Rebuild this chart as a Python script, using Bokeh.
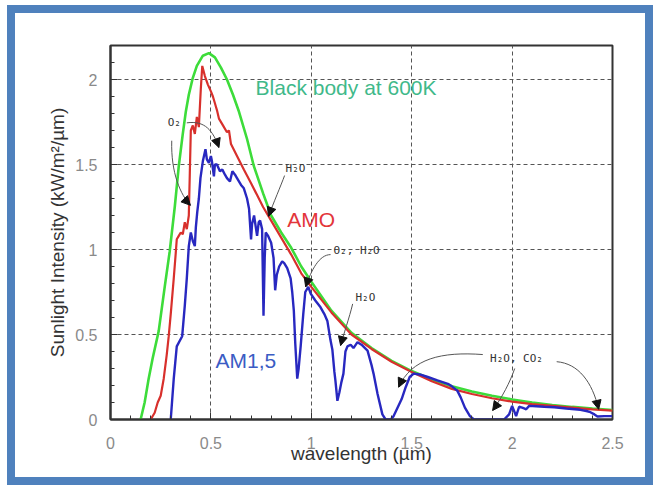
from bokeh.plotting import figure
from bokeh.embed import file_html
from bokeh.resources import INLINE
from bokeh.models import (ColumnDataSource, SingleIntervalTicker, Label, Arrow, NormalHead)
from bokeh.core.properties import value

# ---- data (wavelength in µm, intensity in kW/m²/µm) ----
bb_wl = [0.15, 0.17, 0.19, 0.21, 0.24, 0.27, 0.295, 0.32, 0.34, 0.36, 0.375, 0.39, 0.41, 0.43,
         0.46, 0.49, 0.52, 0.55, 0.58, 0.61, 0.64, 0.68, 0.714, 0.76, 0.80, 0.85, 0.90, 0.95,
         1.0, 1.1, 1.2, 1.3, 1.4, 1.5, 1.6, 1.7, 1.8, 1.9, 2.0, 2.1, 2.2, 2.3, 2.4, 2.5]
bb_int = [0.0, 0.10, 0.24, 0.36, 0.52, 0.78, 0.99, 1.25, 1.49, 1.68, 1.81, 1.91, 2.01, 2.08,
          2.14, 2.155, 2.13, 2.07, 2.00, 1.91, 1.81, 1.65, 1.49, 1.33, 1.20, 1.10, 1.01, 0.90,
          0.81, 0.64, 0.51, 0.42, 0.345, 0.285, 0.235, 0.195, 0.165, 0.14, 0.118, 0.10, 0.085,
          0.074, 0.064, 0.056]

am0_wl = [0.20, 0.22, 0.235, 0.25, 0.265, 0.28, 0.29, 0.30, 0.315, 0.325, 0.33, 0.34, 0.35,
          0.36, 0.37, 0.38, 0.39, 0.395, 0.40, 0.41, 0.42, 0.43, 0.44, 0.45, 0.457, 0.47,
          0.485, 0.50, 0.51, 0.52, 0.525, 0.53, 0.54, 0.56, 0.58, 0.59, 0.60, 0.63, 0.664,
          0.70, 0.73, 0.76, 0.80, 0.85, 0.90, 0.95, 1.0, 1.1, 1.2, 1.3, 1.4, 1.5, 1.6, 1.7,
          1.8, 1.9, 2.0, 2.1, 2.2, 2.3, 2.4, 2.5]
am0_int = [0.0, 0.04, 0.10, 0.14, 0.24, 0.38, 0.49, 0.62, 0.83, 0.98, 1.06, 1.08, 1.10,
           1.09, 1.16, 1.12, 1.20, 1.45, 1.70, 1.73, 1.68, 1.78, 1.72, 1.95, 2.08, 2.02,
           1.97, 1.93, 1.90, 1.86, 1.84, 1.82, 1.77, 1.73, 1.69, 1.70, 1.62, 1.55, 1.47,
           1.39, 1.32, 1.25, 1.17, 1.07, 0.97, 0.86, 0.78, 0.63, 0.50, 0.415, 0.34, 0.28,
           0.225, 0.18, 0.15, 0.125, 0.105, 0.09, 0.08, 0.07, 0.06, 0.052]

am15_wl = [0.30, 0.315, 0.33, 0.357, 0.37, 0.38, 0.39, 0.40, 0.41, 0.42, 0.425, 0.432, 0.44,
           0.448, 0.46, 0.473, 0.48, 0.49, 0.50, 0.505, 0.515, 0.52, 0.53, 0.545, 0.557,
           0.57, 0.58, 0.595, 0.607, 0.62, 0.63, 0.65, 0.664, 0.68, 0.69, 0.70, 0.705,
           0.715, 0.725, 0.73, 0.738, 0.745, 0.755, 0.762, 0.768, 0.773, 0.785, 0.80,
           0.812, 0.82, 0.828, 0.84, 0.855, 0.865, 0.88, 0.897, 0.905, 0.913, 0.92, 0.93,
           0.937, 0.947, 0.96, 0.97, 0.985, 0.997, 1.02, 1.046, 1.065, 1.08, 1.095, 1.105,
           1.115, 1.12, 1.13, 1.14, 1.15, 1.16, 1.17, 1.18, 1.196, 1.21, 1.23, 1.25, 1.28,
           1.30, 1.31, 1.33, 1.354, 1.37, 1.395, 1.41, 1.43, 1.45, 1.47, 1.49, 1.51, 1.54,
           1.58, 1.628, 1.68, 1.70, 1.727, 1.744, 1.765, 1.79, 1.81, 1.84, 1.90, 1.96,
           1.985, 2.0, 2.01, 2.02, 2.035, 2.05, 2.06, 2.07, 2.085, 2.12, 2.16, 2.21, 2.27,
           2.34, 2.37, 2.39, 2.41, 2.425, 2.46, 2.5]
am15_int = [0.0, 0.24, 0.43, 0.49, 0.67, 0.83, 1.02, 1.10, 1.05, 1.02, 1.13, 1.22, 1.30,
            1.42, 1.52, 1.59, 1.53, 1.51, 1.55, 1.52, 1.43, 1.50, 1.50, 1.46, 1.47,
            1.44, 1.42, 1.40, 1.46, 1.44, 1.42, 1.38, 1.36, 1.30, 1.24, 1.06, 1.15,
            1.20, 1.12, 1.08, 1.16, 1.17, 1.12, 0.61, 0.95, 1.10, 1.08, 1.04,
            0.95, 0.76, 0.85, 0.90, 0.93, 0.92, 0.89, 0.83, 0.75, 0.64, 0.45, 0.24,
            0.30, 0.43, 0.62, 0.75, 0.78, 0.74, 0.70, 0.66, 0.62, 0.58, 0.47, 0.41,
            0.28, 0.23, 0.11, 0.16, 0.22, 0.27, 0.40, 0.43, 0.44, 0.42, 0.455, 0.44, 0.405,
            0.32, 0.27, 0.15, 0.03, 0.0, 0.0, 0.02, 0.07, 0.12, 0.19, 0.25, 0.27, 0.265,
            0.25, 0.23, 0.21, 0.195, 0.17, 0.13, 0.07, 0.02, 0.0, 0.0, 0.0, 0.0,
            0.03, 0.08, 0.05, 0.02, 0.075, 0.07, 0.065, 0.06, 0.08, 0.078, 0.075, 0.072, 0.065,
            0.057, 0.05, 0.043, 0.03, 0.018, 0.02, 0.02]

x_tick_labels = {0: "0", 0.5: "0.5", 1: "1", 1.5: "1.5", 2: "2", 2.5: "2.5"}
y_tick_labels = {0: "0", 0.5: "0.5", 1: "1", 1.5: "1.5", 2: "2"}

# annotation texts (absorption bands) and their anchor points
ann_text = ["O\u2082", "H\u2082O", "O\u2082, H\u2082O", "H\u2082O", "H\u2082O, CO\u2082"]
ann_x = [0.285, 0.872, 1.11, 1.22, 1.89]
ann_y = [1.745, 1.475, 0.995, 0.72, 0.36]

# curved arrows: start, control 1, control 2, end
arr_x0 = [0.305, 0.38, 0.867, 1.096, 1.206, 1.854, 2.013, 2.222]
arr_y0 = [1.64, 1.745, 1.435, 0.97, 0.68, 0.382, 0.30, 0.34]
arr_cx0 = [0.30, 0.47, 0.85, 1.04, 1.19, 1.65, 1.99, 2.33]
arr_cy0 = [1.45, 1.76, 1.38, 0.97, 0.60, 0.40, 0.22, 0.33]
arr_cx1 = [0.35, 0.51, 0.81, 1.00, 1.16, 1.50, 1.95, 2.40]
arr_cy1 = [1.32, 1.70, 1.27, 0.88, 0.50, 0.36, 0.13, 0.22]
arr_x1 = [0.398, 0.54, 0.787, 0.972, 1.146, 1.435, 1.903, 2.431]
arr_y1 = [1.26, 1.60, 1.195, 0.78, 0.435, 0.19, 0.053, 0.06]

FONT = "Liberation Sans"

p = figure(width=630, height=464, x_range=(0, 2.5), y_range=(0, 2.2),
           output_backend="svg", toolbar_location=None,
           min_border_left=95, min_border_right=49, min_border_top=32, min_border_bottom=74)
p.styles = {"border": "8px solid #4f81bd", "box-sizing": "content-box",
            "margin-left": "7px", "margin-top": "5px"}
p.background_fill_color = "white"
p.border_fill_color = "white"
p.outline_line_color = "#333333"
p.outline_line_width = 2

for ax in (p.xaxis[0], p.yaxis[0]):
    ax.ticker = SingleIntervalTicker(interval=0.5, num_minor_ticks=5)
    ax.axis_line_color = "#333333"
    ax.axis_line_width = 2
    ax.major_tick_in = 7
    ax.major_tick_out = 0
    ax.minor_tick_in = 4
    ax.minor_tick_out = 0
    ax.major_tick_line_color = "#333333"
    ax.minor_tick_line_color = "#333333"
    ax.major_label_text_font = FONT
    ax.major_label_text_font_size = "16px"
    ax.major_label_text_color = "#8a8a8a"
    ax.axis_label_text_font = FONT
    ax.axis_label_text_font_style = "normal"
    ax.axis_label_text_font_size = "19px"
    ax.axis_label_text_color = "#333333"

p.xaxis.major_label_overrides = x_tick_labels
p.yaxis.major_label_overrides = y_tick_labels
p.xaxis.axis_label = "wavelength (\u00b5m)"
p.yaxis.axis_label = "Sunlight Intensity (kW/m\u00b2/\u00b5m)"
p.xaxis.major_label_standoff = 17
p.yaxis.major_label_standoff = 13
p.xaxis.axis_label_standoff = -9
p.yaxis.axis_label_standoff = 4

for g in (p.xgrid[0], p.ygrid[0]):
    g.ticker = SingleIntervalTicker(interval=0.5)
    g.grid_line_color = "#555555"
    g.grid_line_width = 1
    g.grid_line_dash = "4 3"

src_bb = ColumnDataSource(dict(x=bb_wl, y=bb_int))
src_am0 = ColumnDataSource(dict(x=am0_wl, y=am0_int))
src_am15 = ColumnDataSource(dict(x=am15_wl, y=am15_int))

p.line("x", "y", source=src_bb, line_color="#3ddc3a", line_width=2.6)
p.line("x", "y", source=src_am0, line_color="#d8302c", line_width=2.2)
p.line("x", "y", source=src_am15, line_color="#2828c0", line_width=2.4)

# arrows
src_arr = ColumnDataSource(dict(x0=arr_x0, y0=arr_y0, cx0=arr_cx0, cy0=arr_cy0,
                                cx1=arr_cx1, cy1=arr_cy1, x1=arr_x1, y1=arr_y1))
p.bezier(x0="x0", y0="y0", x1="x1", y1="y1", cx0="cx0", cy0="cy0", cx1="cx1", cy1="cy1",
         source=src_arr, line_color="#555555", line_width=1)
p.add_layout(Arrow(end=NormalHead(size=9, fill_color="#111111", line_color="#111111"),
                   x_start="cx1", y_start="cy1", x_end="x1", y_end="y1",
                   line_alpha=0, source=src_arr))

src_ann = ColumnDataSource(dict(x=ann_x, y=ann_y, t=ann_text))
p.text(x="x", y="y", text="t", source=src_ann, text_font=value("DejaVu Sans Mono"),
       text_font_size="11px", text_color="#333333", text_baseline="middle", text_align="left")

p.add_layout(Label(x=0.7225, y=1.955, text="Black body at 600K", text_font=FONT,
                   text_font_size="21px", text_color="#3fb98a", text_baseline="alphabetic"))
p.add_layout(Label(x=0.88, y=1.175, text="AMO", text_font=FONT,
                   text_font_size="21px", text_color="#e3353a", text_baseline="alphabetic"))
p.add_layout(Label(x=0.523, y=0.345, text="AM1,5", text_font=FONT,
                   text_font_size="21px", text_color="#3b5cc4", text_baseline="alphabetic"))

open("out.html", "w").write(file_html(p, INLINE))
